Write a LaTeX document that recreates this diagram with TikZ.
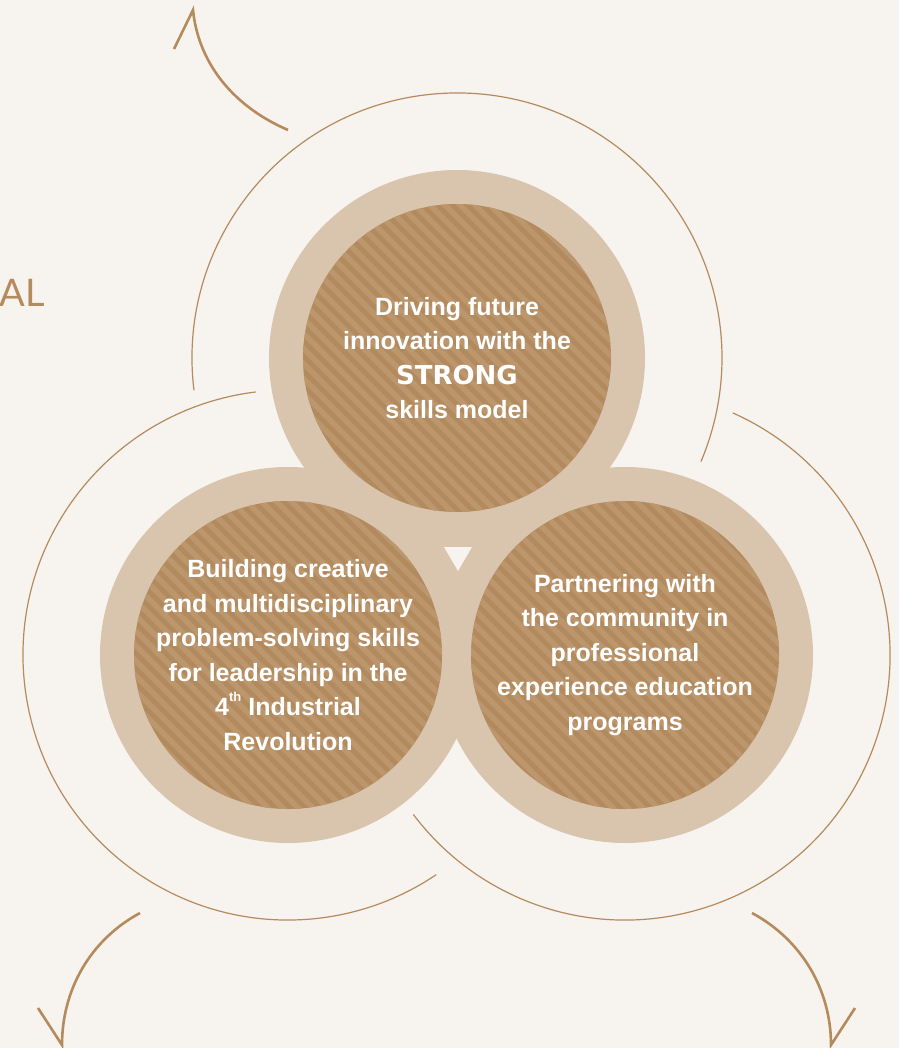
\documentclass[tikz,border=0pt]{standalone}
\usepackage{fontspec}
\setsansfont{Liberation Sans}
\newfontfamily\strongfont{DejaVu Sans}
\newfontfamily\alfont{Lato}

\definecolor{paper}{HTML}{F7F4EF}
\definecolor{ring}{HTML}{D9C5AD}
\definecolor{bronze}{HTML}{B28A5D}
\definecolor{stripe}{HTML}{BC966C}
\definecolor{arcline}{HTML}{B58B5E}

\newcommand{\thsup}{\raisebox{0.55em}{\fontsize{13}{13}\selectfont th}}

\tikzset{
  ringfill/.style={fill=ring},
  corefill/.style={fill=bronze},
  thinarc/.style={draw=arcline, line width=1.2pt},
  bigarrow/.style={draw=arcline, line width=2.6pt},
  corelabel/.style={text=white, align=center,
    font=\sffamily\bfseries\fontsize{25}{34.5}\selectfont}
}

\begin{document}
\begin{tikzpicture}[x=1pt, y=1pt]
  \fill[paper] (0,0) rectangle (899,-1048);
  \useasboundingbox (0,0) rectangle (899,-1048);

  %% centres
  \coordinate (top)   at (457,-358);
  \coordinate (left)  at (288,-655);
  \coordinate (right) at (625,-655);

  %% big thin arcs
  \draw[thinarc] (top)   ++(187:265pt) arc[start angle=187, end angle=-23, radius=265pt];
  \draw[thinarc] (left)  ++(97:265pt)  arc[start angle=97,  end angle=304, radius=265pt];
  \draw[thinarc] (right) ++(66:265pt)  arc[start angle=66,  end angle=-143, radius=265pt];

  %% arrows
  \draw[bigarrow] (174,-49) -- (193,-10) .. controls (198,-60) and (230,-105) .. (288,-130);
  \draw[bigarrow] (140,-913) .. controls (90,-940) and (62,-990) .. (62,-1045) -- (38,-1008);
  \draw[bigarrow] (752,-913) .. controls (802,-940) and (831,-990) .. (831,-1045) -- (855,-1008);

  %% outer rings
  \fill[ringfill] (top) circle[radius=188pt];
  \fill[ringfill] (left) circle[radius=188pt];
  \fill[ringfill] (right) circle[radius=188pt];
  \fill[ringfill] (top) -- (left) -- (right) -- cycle;

  %% striped cores
  \fill[corefill] (top) circle[radius=154pt];
  \fill[corefill] (left) circle[radius=154pt];
  \fill[corefill] (right) circle[radius=154pt];
  \begin{scope}
    \clip (top) circle[radius=154pt] (left) circle[radius=154pt] (right) circle[radius=154pt];
    \foreach \x in {-900,-885,...,900}
      \draw[stripe, line width=5.5pt] (\x,-150) -- ++(850,-850);
  \end{scope}

  %% centre mark
  \fill[paper] (444,-547) -- (472,-547) -- (458,-571) -- cycle;

  %% labels
  \node[corelabel] (topText) at (top) {Driving future\\innovation with the\\
    {\strongfont\fontsize{26}{34.5}\selectfont STRONG}\\skills model};
  \node[corelabel] (leftText) at (left) {Building creative\\and multidisciplinary\\
    problem-solving skills\\for leadership in the\\4\thsup\ Industrial\\Revolution};
  \node[corelabel] (rightText) at (right) {Partnering with\\the community in\\
    professional\\experience education\\programs};

  \node[anchor=base east, inner sep=0pt, text=arcline,
    font=\alfont\fontsize{38}{40}\selectfont] (sideText) at (45,-306) {AL};
\end{tikzpicture}
\end{document}
